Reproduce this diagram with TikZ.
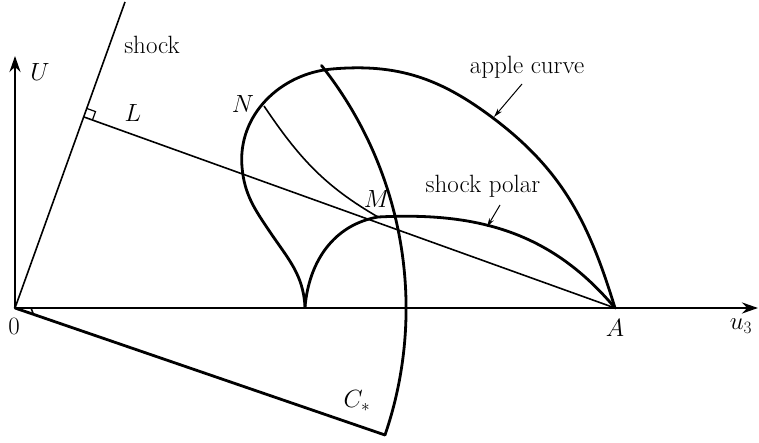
\documentclass[tikz,border=0pt]{standalone}
\usetikzlibrary{arrows.meta,calc}
\begin{document}
\begin{tikzpicture}[x=1pt,y=1pt,
  lbl/.style={inner sep=0pt,font=\fontsize{25}{30}\selectfont},
  thick curve/.style={line width=2.8pt,line join=round,line cap=round},
  thin line/.style={line width=1.6pt},
  axis/.style={line width=2.8pt,-{Stealth[length=16pt,width=11pt]}},
  pointer/.style={line width=1pt,-{Stealth[length=9pt,width=5pt]}}]
\useasboundingbox (0,0) rectangle (759,442);
\coordinate (O) at (15,134);
\coordinate (A) at (615,134);
\coordinate (Uend) at (15,386);
\coordinate (Xend) at (758,134);
\coordinate (S) at (125,440);
\coordinate (F) at (84,325);
\coordinate (C) at (385,7);
\coordinate (Cusp) at (305,135);
\coordinate (M) at (378,225);
\coordinate (N) at (264,336);
\coordinate (P1) at (270,210);
\coordinate (P2) at (242,275);
\coordinate (P3) at (332,373);
\coordinate (P4) at (493,324);
% axes
\draw[axis] (O) -- (Uend);
\draw[axis] (O) -- (Xend);
% shock line and L
\draw[thin line] (O) -- (S);
\draw[thin line] (F) -- (A);
% right angle mark at foot
\draw[line width=1.2pt] ($(F)!9pt!(S)$) -- ($($(F)!9pt!(S)$)+($(F)!9pt!(A)$)-(F)$) -- ($(F)!9pt!(A)$);
% C* line and arc
\draw[thick curve] (O) -- (C);
\draw[thick curve] (C) arc[start angle=-18.9,end angle=38.4,radius=391];
% small mark at O
\draw[line width=1.5pt] (31,134) -- (33,129);
% apple curve
\draw[thick curve] (Cusp) to[out=93,in=-56] (P1) to[out=124,in=-85] (P2)
  to[out=95,in=185] (P3) to[out=5,in=143] (P4) to[out=-37,in=107] (A);
% shock polar
\draw[thick curve] (Cusp) to[out=85,in=190] (M) to[out=3,in=130] (A);
% N to M curve
\draw[thin line] (N) to[out=-56,in=150] (M);
% labels
\node[lbl] (lU) at (40,370) {$U$};
\node[lbl] (lshock) at (152,397) {shock};
\node[lbl] (lL) at (133,329) {$L$};
\node[lbl] (lN) at (243,338) {$N$};
\node[lbl] (lM) at (377,243) {$M$};
\node[lbl] (lapple) at (527,375) {apple curve};
\node[lbl] (lpolar) at (483,256) {shock polar};
\node[lbl] (l0) at (14,116) {$0$};
\node[lbl] (lA) at (615,114) {$A$};
\node[lbl] (lu) at (741,116) {$u_3$};
\node[lbl] (lC) at (357,41) {$C_*$};
\coordinate (ap0) at (522,358);
\coordinate (ap) at (494,325);
\coordinate (sp0) at (500,237);
\coordinate (sp) at (487,215);
\draw[pointer] (ap0) -- (ap);
\draw[pointer] (sp0) -- (sp);
\end{tikzpicture}
\end{document}
